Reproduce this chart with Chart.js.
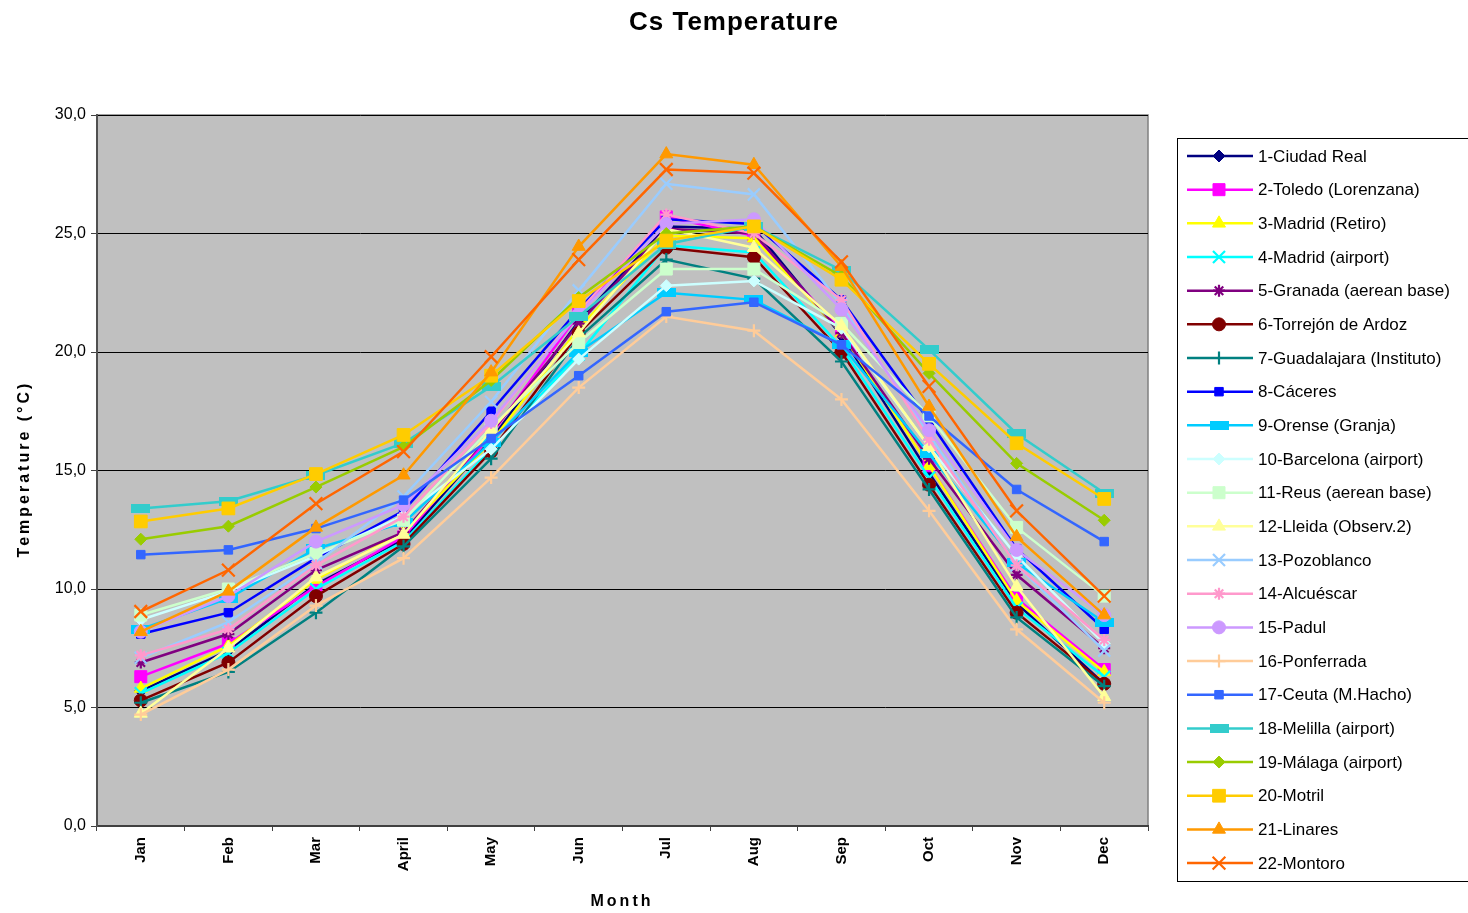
<!DOCTYPE html>
<html>
<head>
<meta charset="utf-8">
<title>Cs Temperature</title>
<script src="https://cdn.jsdelivr.net/npm/chart.js@4/dist/chart.umd.min.js"></script>
<style>
  html, body { margin: 0; padding: 0; background: #fff; }
  #wrap { width: 1468px; height: 913px; position: relative; }
</style>
</head>
<body>
<div id="wrap"><canvas id="chart" width="1468" height="913"></canvas></div>
<script>
// ---- Data ----
const months = ['Jan', 'Feb', 'Mar', 'April', 'May', 'Jun', 'Jul', 'Aug', 'Sep', 'Oct', 'Nov', 'Dec'];
const yTicks = [0, 5, 10, 15, 20, 25, 30];

const stations = [
  '1-Ciudad Real', '2-Toledo (Lorenzana)', '3-Madrid (Retiro)', '4-Madrid (airport)',
  '5-Granada (aerean base)', '6-Torrejón de Ardoz', '7-Guadalajara (Instituto)', '8-Cáceres',
  '9-Orense (Granja)', '10-Barcelona (airport)', '11-Reus (aerean base)', '12-Lleida (Observ.2)',
  '13-Pozoblanco', '14-Alcuéscar', '15-Padul', '16-Ponferrada', '17-Ceuta (M.Hacho)',
  '18-Melilla (airport)', '19-Málaga (airport)', '20-Motril', '21-Linares', '22-Montoro'
];

const ciudadReal   = [5.7, 7.4, 10.2, 12.1, 16.3, 21.3, 25.3, 25.2, 20.7, 14.9, 9.4, 6.0];
const toledo       = [6.3, 7.7, 10.1, 12.2, 16.5, 21.6, 25.7, 24.9, 20.9, 15.2, 9.6, 6.6];
const madridRetiro = [5.8, 7.6, 10.4, 12.4, 16.2, 21.0, 24.9, 24.8, 20.8, 15.2, 9.5, 6.5];
const madridAirport= [5.6, 7.3, 10.0, 12.0, 15.9, 19.9, 24.5, 24.2, 20.2, 14.7, 9.2, 6.3];
const granada      = [6.9, 8.1, 10.8, 12.4, 16.6, 21.2, 25.2, 25.0, 20.8, 15.5, 10.6, 7.5];
const torrejon     = [5.3, 6.9, 9.7, 11.9, 15.8, 20.8, 24.4, 24.0, 20.0, 14.4, 9.0, 6.0];
const guadalajara  = [5.2, 6.5, 9.0, 11.8, 15.5, 20.6, 23.9, 23.1, 19.6, 14.2, 8.8, 5.9];
const caceres      = [8.1, 9.0, 11.3, 13.3, 17.5, 21.8, 25.6, 25.4, 22.2, 17.1, 11.7, 8.3];
const orense       = [8.3, 9.6, 11.7, 12.8, 16.2, 20.0, 22.5, 22.2, 20.3, 15.7, 11.1, 8.6];
const barcelona    = [8.7, 9.9, 11.4, 13.1, 15.9, 19.7, 22.8, 23.0, 21.0, 16.0, 11.4, 7.7];
const reus         = [8.9, 10.0, 11.5, 12.9, 16.8, 20.4, 23.5, 23.5, 21.2, 17.3, 12.6, 9.7];
const lleida       = [4.75, 7.5, 10.5, 12.3, 16.7, 20.8, 25.2, 24.4, 21.1, 16.0, 10.1, 5.45];
const pozoblanco   = [7.1, 8.6, 11.1, 13.9, 17.9, 22.6, 27.1, 26.65, 22.0, 16.5, 11.0, 7.4];
const alcuescar    = [7.2, 8.3, 11.0, 13.05, 17.0, 21.7, 25.8, 25.0, 22.2, 16.3, 11.0, 7.85];
const padul        = [8.2, 9.7, 12.0, 13.55, 17.1, 21.6, 25.4, 25.6, 21.8, 16.7, 11.65, 8.9];
const ponferrada   = [4.7, 6.6, 9.3, 11.3, 14.7, 18.5, 21.5, 20.9, 18.0, 13.3, 8.3, 5.2];
const ceuta        = [11.45, 11.65, 12.55, 13.75, 16.35, 19.0, 21.7, 22.1, 20.3, 17.3, 14.2, 12.0];
const melilla      = [13.4, 13.7, 14.8, 16.15, 18.55, 21.5, 24.55, 25.3, 23.45, 20.1, 16.55, 14.05];
const malaga       = [12.1, 12.65, 14.3, 16.0, 18.8, 22.3, 25.0, 25.3, 23.2, 19.1, 15.3, 12.9];
const motril       = [12.85, 13.4, 14.85, 16.5, 19.0, 22.15, 24.7, 25.3, 23.05, 19.5, 16.15, 13.8];
const linares      = [8.2, 9.9, 12.6, 14.8, 19.15, 24.45, 28.35, 27.9, 23.6, 17.7, 12.2, 8.9];
const montoro      = [9.05, 10.8, 13.6, 15.8, 19.8, 23.9, 27.7, 27.55, 23.8, 18.55, 13.3, 9.7];

const seriesValues = [
  ciudadReal, toledo, madridRetiro, madridAirport, granada, torrejon, guadalajara, caceres,
  orense, barcelona, reus, lleida, pozoblanco, alcuescar, padul, ponferrada, ceuta,
  melilla, malaga, motril, linares, montoro
];

// ---- Styles ----
const colors = [
  '#000080', '#ff00ff', '#ffff00', '#00ffff', '#800080', '#800000', '#008080', '#0000ff',
  '#00ccff', '#ccffff', '#ccffcc', '#ffff99', '#99ccff', '#ff99cc', '#cc99ff', '#ffcc99',
  '#3366ff', '#33cccc', '#99cc00', '#ffcc00', '#ff9900', '#ff6600'
];
const markerStyles = [
  'rectRot', 'rect', 'triangle', 'crossRot', 'star', 'circle', 'cross', 'rect',
  'wide', 'rectRot', 'rect', 'triangle', 'crossRot', 'star', 'circle', 'cross', 'rect',
  'wide', 'rectRot', 'rect', 'triangle', 'crossRot'
];
// wide markers are images, the radius only keeps them from being skipped
const markerSizes = [6, 8.5, 7.5, 8.5, 6, 6.5, 6.5, 6, 6, 6, 8.5, 7.5, 8.5, 6, 6.5, 6.5, 6, 6, 6, 9, 7.5, 9];

const FONT = "'Liberation Sans', Arial, sans-serif";

// wide flat rectangle marker (Orense, Melilla)
function wideMarker(color) {
  const c = document.createElement('canvas');
  c.width = 19; c.height = 9;
  const g = c.getContext('2d');
  g.fillStyle = color;
  g.fillRect(0, 0, 19, 9);
  return c;
}

function pointStyleFor(i) {
  return markerStyles[i] === 'wide' ? wideMarker(colors[i]) : markerStyles[i];
}

const datasets = stations.map((name, i) => {
  const thin = ['cross', 'crossRot', 'star'].includes(markerStyles[i]);
  return {
    label: name,
    data: seriesValues[i],
    borderColor: colors[i],
    backgroundColor: colors[i],
    borderWidth: 2.5,
    pointStyle: pointStyleFor(i),
    pointRadius: markerSizes[i],
    pointBackgroundColor: colors[i],
    pointBorderColor: colors[i],
    pointBorderWidth: thin ? 2.2 : 1,
    tension: 0,
    order: stations.length - 1 - i
  };
});

// ---- Plugins ----
const plotBackground = {
  id: 'plotBackground',
  beforeDraw(chart) {
    const { ctx, chartArea: a } = chart;
    ctx.save();
    ctx.fillStyle = '#c0c0c0';
    ctx.fillRect(a.left, a.top, a.width, a.height);
    ctx.strokeStyle = '#808080';
    ctx.lineWidth = 1.5;
    ctx.strokeRect(a.left, a.top, a.width, a.height);
    ctx.restore();
  }
};

const titles = {
  id: 'titles',
  afterDraw(chart) {
    const { ctx } = chart;
    ctx.save();
    ctx.fillStyle = '#000';
    ctx.textAlign = 'center';
    ctx.textBaseline = 'middle';

    ctx.font = `bold 26px ${FONT}`;
    ctx.letterSpacing = '1px';
    ctx.fillText('Cs Temperature', 734, 23);

    ctx.font = `bold 16px ${FONT}`;
    ctx.letterSpacing = '3px';
    ctx.fillText('Month', 622, 902);

    ctx.translate(25, 469);
    ctx.rotate(-Math.PI / 2);
    ctx.font = `bold 16px ${FONT}`;
    ctx.letterSpacing = '3px';
    ctx.fillText('Temperature (°C)', 0, 0);
    ctx.restore();
  }
};

// legend box at the right: line sample + marker + station name
const sideLegend = {
  id: 'sideLegend',
  afterDraw(chart) {
    const ctx = chart.ctx;
    const boxX = 1177, boxY = 138, boxH = 743;
    const step = 33.67;
    ctx.save();
    ctx.strokeStyle = '#000';
    ctx.lineWidth = 1;
    ctx.strokeRect(boxX + 0.5, boxY + 0.5, 320, boxH);
    ctx.font = `17px ${FONT}`;
    ctx.textBaseline = 'middle';
    ctx.textAlign = 'left';
    chart.data.datasets.forEach((ds, i) => {
      const y = 156 + i * step;
      ctx.strokeStyle = ds.borderColor;
      ctx.fillStyle = ds.borderColor;
      ctx.lineWidth = ds.borderWidth;
      ctx.beginPath();
      ctx.moveTo(1187, y);
      ctx.lineTo(1253, y);
      ctx.stroke();
      ctx.lineWidth = ds.pointBorderWidth;
      Chart.helpers.drawPoint(ctx, {
        pointStyle: ds.pointStyle,
        radius: ds.pointRadius,
        rotation: 0,
        borderWidth: ds.pointBorderWidth
      }, 1219, y);
      ctx.fillStyle = '#000';
      ctx.fillText(ds.label, 1258, y + 1);
    });
    ctx.restore();
  }
};

// ---- Chart ----
new Chart(document.getElementById('chart'), {
  type: 'line',
  data: { labels: months, datasets },
  plugins: [plotBackground, titles, sideLegend],
  options: {
    responsive: false,
    animation: false,
    devicePixelRatio: 1,
    events: [],
    layout: { padding: { top: 115, right: 320, bottom: 0, left: 0 } },
    plugins: {
      legend: { display: false },
      tooltip: { enabled: false },
      title: { display: false }
    },
    scales: {
      x: {
        offset: true,
        grid: { display: true, drawOnChartArea: false, offset: true, tickLength: 5, color: '#404040' },
        border: { display: true, color: '#404040', width: 2 },
        ticks: {
          color: '#000',
          font: { family: FONT, size: 15, weight: 'bold' },
          minRotation: 90,
          maxRotation: 90,
          padding: 6,
          autoSkip: false
        },
        afterFit(scale) {
          scale.height = 87;
          scale.paddingLeft = 0;
          scale.paddingRight = 0;
        }
      },
      y: {
        min: yTicks[0],
        max: yTicks[yTicks.length - 1],
        afterBuildTicks(scale) {
          scale.ticks = yTicks.map(v => ({ value: v }));
        },
        grid: { color: '#000', lineWidth: 1, tickLength: 6, tickColor: '#404040' },
        border: { display: true, color: '#505050', width: 2 },
        ticks: {
          color: '#000',
          font: { family: FONT, size: 16 },
          padding: 5,
          callback: v => v.toFixed(1).replace('.', ',')
        },
        afterFit(scale) {
          scale.width = 97;
          scale.paddingTop = 0;
          scale.paddingBottom = 0;
        }
      }
    }
  }
});
</script>
</body>
</html>
